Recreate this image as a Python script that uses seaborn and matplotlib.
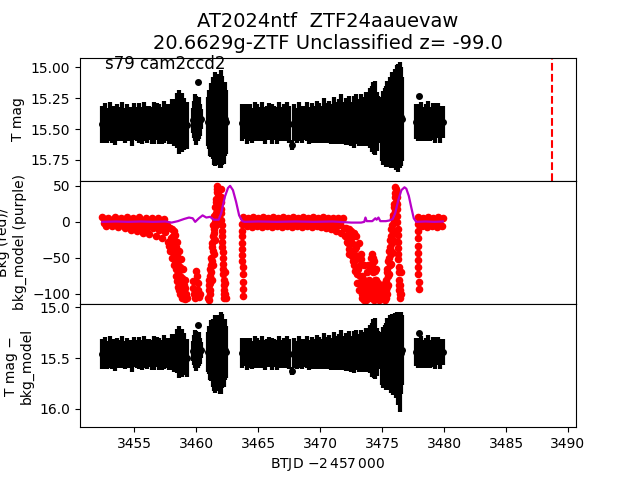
import matplotlib
matplotlib.use("Agg")
import matplotlib.pyplot as plt
import seaborn as sns

# ---------------- photometry (T mag) ----------------
t_mag = [
    # segment A
    3452.4, 3452.6, 3452.8, 3453.0, 3453.2, 3453.4, 3453.6, 3453.8, 3454.0, 3454.2,
    3454.4, 3454.6, 3454.8, 3455.0, 3455.2, 3455.4, 3455.6, 3455.8, 3456.0, 3456.2,
    3456.4, 3456.6, 3456.8, 3457.0, 3457.2, 3457.4, 3457.6, 3457.8, 3458.0, 3458.2,
    3458.4, 3458.6, 3458.8, 3459.0, 3459.2,
    # segment B
    3459.7, 3459.8, 3459.9, 3460.0, 3460.1, 3460.15, 3460.2, 3460.3, 3460.4,
    # segment C
    3460.9, 3461.0, 3461.1, 3461.2, 3461.3, 3461.4, 3461.5, 3461.6, 3461.7, 3461.8,
    3461.9, 3462.0, 3462.1, 3462.2, 3462.3, 3462.4,
    # segment D
    3463.7, 3463.9, 3464.1, 3464.3, 3464.5, 3464.7, 3464.9, 3465.1, 3465.3, 3465.5,
    3465.7, 3465.9, 3466.1, 3466.3, 3466.5, 3466.7, 3466.9, 3467.1, 3467.3, 3467.5,
    3467.7, 3467.9, 3468.1, 3468.3, 3468.5, 3468.7, 3468.9, 3469.1, 3469.3, 3469.5,
    3469.7, 3469.9, 3470.1, 3470.3, 3470.5, 3470.7, 3470.9, 3471.1, 3471.3, 3471.5,
    3471.7, 3471.9, 3472.1, 3472.3, 3472.5, 3472.7, 3472.9, 3473.1, 3473.3, 3473.5,
    3473.7,
    # segment E
    3473.85, 3473.95, 3474.05, 3474.15, 3474.25, 3474.35, 3474.45, 3474.55, 3474.65, 3474.75,
    # segment F
    3475.0, 3475.1, 3475.2, 3475.3, 3475.4, 3475.5, 3475.6, 3475.7, 3475.8, 3475.9,
    3476.0, 3476.1, 3476.2, 3476.3, 3476.4, 3476.5, 3476.6,
    # segment G
    3477.7, 3477.9, 3477.95, 3478.1, 3478.3, 3478.5, 3478.7, 3478.9, 3479.1, 3479.3,
    3479.5, 3479.7, 3479.9,
]
mag = [
    15.46, 15.45, 15.47, 15.44, 15.46, 15.47, 15.45, 15.46, 15.44, 15.47,
    15.45, 15.46, 15.48, 15.44, 15.46, 15.45, 15.47, 15.44, 15.46, 15.45,
    15.47, 15.45, 15.44, 15.46, 15.47, 15.44, 15.45, 15.46, 15.44, 15.45,
    15.43, 15.44, 15.45, 15.46, 15.47,
    15.43, 15.42, 15.41, 15.43, 15.42, 15.12, 15.41, 15.43, 15.42,
    15.44, 15.42, 15.45, 15.43, 15.41, 15.44, 15.42, 15.45, 15.43, 15.41,
    15.44, 15.42, 15.43, 15.45, 15.42, 15.44,
    15.45, 15.44, 15.46, 15.45, 15.47, 15.44, 15.45, 15.46, 15.44, 15.47,
    15.45, 15.44, 15.46, 15.45, 15.47, 15.44, 15.46, 15.45, 15.44, 15.46,
    15.63, 15.45, 15.47, 15.44, 15.46, 15.45, 15.44, 15.47, 15.45, 15.46,
    15.44, 15.45, 15.46, 15.43, 15.45, 15.44, 15.46, 15.43, 15.45, 15.44,
    15.42, 15.45, 15.44, 15.43, 15.46, 15.44, 15.42, 15.45, 15.43, 15.44,
    15.42,
    15.43, 15.42, 15.41, 15.42, 15.40, 15.43, 15.41, 15.44, 15.42, 15.43,
    15.50, 15.49, 15.47, 15.48, 15.45, 15.46, 15.44, 15.45, 15.42, 15.43,
    15.41, 15.42, 15.40, 15.41, 15.39, 15.40, 15.42,
    15.44, 15.45, 15.23, 15.44, 15.46, 15.45, 15.43, 15.46, 15.44, 15.45,
    15.43, 15.46, 15.44,
]
mag_err = [
    0.15, 0.16, 0.14, 0.16, 0.15, 0.16, 0.15, 0.14, 0.16, 0.14,
    0.15, 0.14, 0.16, 0.15, 0.14, 0.16, 0.15, 0.16, 0.15, 0.14,
    0.15, 0.17, 0.15, 0.16, 0.15, 0.17, 0.15, 0.16, 0.18, 0.19,
    0.22, 0.26, 0.24, 0.21, 0.19,
    0.1, 0.15, 0.19, 0.2, 0.18, 0.01, 0.17, 0.13, 0.08,
    0.2, 0.24, 0.27, 0.3, 0.33, 0.35, 0.38, 0.34, 0.31, 0.36,
    0.38, 0.4, 0.36, 0.33, 0.3, 0.26,
    0.15, 0.14, 0.16, 0.15, 0.14, 0.16, 0.15, 0.14, 0.16, 0.15,
    0.14, 0.15, 0.16, 0.14, 0.15, 0.16, 0.14, 0.15, 0.16, 0.15,
    0.04, 0.15, 0.14, 0.16, 0.15, 0.14, 0.16, 0.15, 0.16, 0.15,
    0.17, 0.16, 0.15, 0.18, 0.16, 0.17, 0.16, 0.19, 0.17, 0.18,
    0.2, 0.17, 0.19, 0.2, 0.18, 0.21, 0.2, 0.19, 0.21, 0.2,
    0.22,
    0.14, 0.19, 0.24, 0.27, 0.28, 0.27, 0.3, 0.24, 0.19, 0.13,
    0.26, 0.3, 0.3, 0.33, 0.34, 0.35, 0.36, 0.37, 0.38, 0.39,
    0.4, 0.41, 0.42, 0.44, 0.43, 0.4, 0.34,
    0.14, 0.15, 0.01, 0.16, 0.14, 0.15, 0.16, 0.14, 0.15, 0.16,
    0.14, 0.15, 0.13,
]
# T mag - bkg_model (same cadence)
mag_corr = [
    15.46, 15.45, 15.47, 15.44, 15.46, 15.47, 15.45, 15.46, 15.44, 15.47,
    15.45, 15.46, 15.48, 15.44, 15.46, 15.45, 15.47, 15.44, 15.46, 15.45,
    15.47, 15.45, 15.44, 15.46, 15.47, 15.44, 15.45, 15.46, 15.44, 15.45,
    15.43, 15.44, 15.45, 15.46, 15.50,
    15.43, 15.42, 15.41, 15.43, 15.42, 15.17, 15.41, 15.43, 15.42,
    15.44, 15.42, 15.45, 15.43, 15.45, 15.47, 15.46, 15.48, 15.45, 15.44,
    15.47, 15.45, 15.43, 15.45, 15.42, 15.44,
    15.45, 15.44, 15.46, 15.45, 15.47, 15.44, 15.45, 15.46, 15.44, 15.47,
    15.45, 15.44, 15.46, 15.45, 15.47, 15.44, 15.46, 15.45, 15.44, 15.46,
    15.63, 15.45, 15.47, 15.44, 15.46, 15.45, 15.44, 15.47, 15.45, 15.46,
    15.44, 15.45, 15.46, 15.43, 15.45, 15.44, 15.46, 15.43, 15.45, 15.44,
    15.42, 15.45, 15.44, 15.43, 15.46, 15.44, 15.42, 15.45, 15.43, 15.44,
    15.42,
    15.43, 15.42, 15.41, 15.42, 15.40, 15.43, 15.41, 15.44, 15.42, 15.43,
    15.50, 15.49, 15.47, 15.48, 15.45, 15.46, 15.44, 15.47, 15.45, 15.47,
    15.46, 15.48, 15.47, 15.52, 15.60, 15.45, 15.42,
    15.44, 15.45, 15.25, 15.44, 15.46, 15.45, 15.43, 15.46, 15.44, 15.45,
    15.43, 15.46, 15.44,
]

# ---------------- background (red points) ----------------
t_bkg = [
    # orbit 1 quiet part
    3452.4, 3452.5, 3452.6, 3452.7, 3452.8, 3452.9, 3453.0, 3453.1, 3453.2, 3453.3,
    3453.4, 3453.5, 3453.6, 3453.7, 3453.8, 3453.9, 3454.0, 3454.1, 3454.2, 3454.3,
    3454.4, 3454.5, 3454.6, 3454.7, 3454.8, 3454.9, 3455.0, 3455.1, 3455.2, 3455.3,
    3455.4, 3455.5, 3455.6, 3455.7, 3455.8, 3455.9, 3456.0, 3456.1, 3456.2, 3456.3,
    3456.4, 3456.5, 3456.6, 3456.7, 3456.8, 3456.9, 3457.0, 3457.1, 3457.2, 3457.3,
    3457.4, 3457.5, 3457.6, 3457.7, 3457.8,
    # orbit 1 drop
    3457.85, 3457.9, 3457.95, 3458.0, 3458.05, 3458.1, 3458.15, 3458.2, 3458.25, 3458.3,
    3458.35, 3458.4, 3458.45, 3458.5, 3458.55, 3458.6, 3458.65, 3458.7, 3458.75, 3458.8,
    3458.85, 3458.9, 3458.95, 3459.0, 3459.05, 3459.1, 3459.15, 3459.2,
    3459.7, 3459.75, 3459.8, 3459.85, 3459.9, 3460.0, 3460.05, 3460.1, 3460.15, 3460.2, 3460.3,
    3460.95, 3461.0, 3461.03, 3461.06, 3461.1, 3461.13, 3461.16, 3461.2, 3461.23, 3461.26,
    3461.3, 3461.33, 3461.36, 3461.4, 3461.43, 3461.46, 3461.5, 3461.53, 3461.56, 3461.6,
    3461.63, 3461.66, 3461.7, 3461.73, 3461.76,
    3461.95, 3461.98, 3462.01, 3462.04, 3462.07, 3462.1, 3462.13, 3462.16, 3462.19, 3462.22,
    3462.25, 3462.28, 3462.31, 3462.34, 3462.37,
    # orbit 2 start
    3463.66, 3463.67, 3463.68, 3463.69, 3463.7, 3463.71, 3463.72, 3463.73, 3463.74, 3463.75,
    3463.76, 3463.77,
    # orbit 2 quiet part
    3463.8, 3463.9, 3464.0, 3464.1, 3464.2, 3464.3, 3464.4, 3464.5, 3464.6, 3464.7,
    3464.8, 3464.9, 3465.0, 3465.1, 3465.2, 3465.3, 3465.4, 3465.5, 3465.6, 3465.7,
    3465.8, 3465.9, 3466.0, 3466.1, 3466.2, 3466.3, 3466.4, 3466.5, 3466.6, 3466.7,
    3466.8, 3466.9, 3467.0, 3467.1, 3467.2, 3467.3, 3467.4, 3467.5, 3467.6, 3467.7,
    3467.8, 3467.9, 3468.0, 3468.1, 3468.2, 3468.3, 3468.4, 3468.5, 3468.6, 3468.7,
    3468.8, 3468.9, 3469.0, 3469.1, 3469.2, 3469.3, 3469.4, 3469.5, 3469.6, 3469.7,
    3469.8, 3469.9, 3470.0, 3470.1, 3470.2, 3470.3, 3470.4, 3470.5, 3470.6, 3470.7,
    3470.8, 3470.9, 3471.0, 3471.1, 3471.2, 3471.3, 3471.4, 3471.5, 3471.6, 3471.7,
    3471.8, 3471.9, 3472.0,
    # orbit 2 drop
    3472.1, 3472.15, 3472.2, 3472.3, 3472.35, 3472.4, 3472.5, 3472.55, 3472.6, 3472.7,
    3472.75, 3472.8, 3472.9, 3472.95, 3473.0, 3473.1, 3473.15, 3473.2, 3473.3, 3473.35,
    3473.4, 3473.5, 3473.55, 3473.6, 3473.7, 3473.75,
    3473.85, 3473.9, 3473.95, 3474.0, 3474.05, 3474.1, 3474.15, 3474.2, 3474.25, 3474.3,
    3474.35, 3474.4, 3474.45, 3474.5, 3474.55, 3474.6, 3474.7, 3474.8, 3474.9, 3475.0,
    3475.1,
    3475.2, 3475.25, 3475.3, 3475.35, 3475.4, 3475.45, 3475.5, 3475.55, 3475.6, 3475.65,
    3475.7, 3475.75, 3475.8, 3475.85, 3475.9, 3475.93, 3475.96, 3476.0, 3476.03, 3476.06,
    3476.09,
    3476.15, 3476.18, 3476.21, 3476.24, 3476.27, 3476.3, 3476.33, 3476.36, 3476.39, 3476.42,
    3476.45, 3476.48, 3476.51,
    # last segment
    3477.86, 3477.87, 3477.88, 3477.89, 3477.9, 3477.91, 3477.92, 3477.93, 3477.94, 3477.95,
    3477.9, 3478.0, 3478.1, 3478.2, 3478.3, 3478.4, 3478.5, 3478.6, 3478.7, 3478.8,
    3478.9, 3479.0, 3479.1, 3479.2, 3479.3, 3479.4, 3479.5, 3479.6, 3479.7, 3479.8,
    3479.9,
]
bkg = [
    7, -2, 4, -6, 1, 6, -3, 3, -6, 0,
    7, -2, 4, -7, 1, 6, -4, 2, -9, -1,
    7, -5, 2, -11, -1, 6, -6, 1, -13, -2,
    7, -7, 1, -15, -3, 6, -8, 0, -17, -4,
    6, -9, 0, -19, -5, 5, -11, -2, -23, -6,
    4, -14, -4, -28, -33,
    -8, -40, -22, -10, -50, -30, -12, -60, -38, -18,
    -75, -48, -28, -90, -62, -40, -100, -75, -52, -105,
    -88, -66, -106, -95, -80, -107, -100, -106,
    -82, -92, -100, -105, -96, -68, -75, -85, -95, -104, -100,
    -105, -95, -80, -100, -65, -85, -50, -70, -35, -55,
    -20, -40, -5, -25, 8, -10, 20, 0, 32, 12,
    42, 25, 50, 38, 46,
    45, 28, 12, -5, -20, -35, -50, -65, -80, -95,
    -105, -100, -85, -70, -105,
    -3, -12, -20, -29, -38, -46, -55, -63, -73, -83,
    -93, -103,
    7, -1, 3, -6, 6, 0, 4, -7, 7, -2,
    2, -6, 6, -1, 3, -7, 7, 0, 4, -6,
    6, -2, 2, -7, 7, -1, 3, -6, 6, 0,
    4, -7, 7, -2, 2, -6, 6, -1, 3, -7,
    7, 0, 4, -6, 6, -2, 2, -7, 7, -1,
    3, -6, 6, 0, 4, -7, 7, -2, 2, -6,
    6, -1, 3, -7, 7, 0, 4, -8, 6, -3,
    1, -10, 6, -4, 0, -13, 5, -5, -1, -16,
    5, -8, -20,
    -8, -28, -18, -10, -38, -24, -12, -48, -30, -15,
    -60, -38, -20, -72, -48, -30, -85, -60, -45, -100,
    -75, -60, -108, -88, -105, -70,
    -95, -106, -80, -65, -90, -50, -105, -45, -70, -95,
    -55, -80, -106, -65, -90, -104, -85, -100, -107, -95,
    -106,
    -100, -85, -105, -70, -90, -55, -75, -40, -60, -25,
    -45, -10, -30, 5, -15, 20, 0, 35, 15, 48,
    28,
    42, 25, 8, -10, -28, -45, -62, -80, -95, -105,
    -88, -70, -100,
    -3, -13, -23, -33, -43, -53, -63, -73, -83, -93,
    7, -1, 3, -6, 6, 0, 4, -7, 7, -2,
    2, -6, 6, -1, 3, -7, 7, 0, 4, -6,
    6,
]
# additional background samples inside the steep scattered-light ramps
t_bkg_ramp = [
    3457.88, 3457.98, 3458.08, 3458.12, 3458.18, 3458.22, 3458.28, 3458.32, 3458.38, 3458.42,
    3458.48, 3458.52, 3458.58, 3458.62, 3458.68, 3458.72, 3458.78, 3458.82, 3458.88, 3458.92,
    3458.98, 3459.02, 3459.08,
    3460.98, 3461.08, 3461.18, 3461.28, 3461.38, 3461.48, 3461.58, 3461.68, 3461.02, 3461.12,
    3461.22, 3461.32, 3461.42, 3461.52, 3461.62, 3461.72,
    3461.96, 3461.99, 3462.02, 3462.05, 3462.08, 3462.11, 3462.14, 3462.17, 3462.2, 3462.23,
    3472.12, 3472.25, 3472.33, 3472.45, 3472.52, 3472.62, 3472.68, 3472.78, 3472.85, 3472.92,
    3472.98, 3473.05, 3473.12, 3473.18, 3473.25, 3473.32, 3473.38, 3473.45, 3473.52, 3473.58,
    3473.65, 3473.72,
    3473.88, 3473.98, 3474.08, 3474.12, 3474.18, 3474.22, 3474.28, 3474.32, 3474.38, 3474.42,
    3474.48, 3474.52, 3474.62, 3474.75, 3474.85, 3474.95,
    3475.22, 3475.28, 3475.32, 3475.38, 3475.42, 3475.48, 3475.52, 3475.58, 3475.62, 3475.68,
    3475.72, 3475.78, 3475.82, 3475.88, 3475.91, 3475.98, 3476.04, 3476.08,
    3476.16, 3476.19, 3476.22, 3476.25, 3476.28, 3476.31, 3476.34, 3476.37, 3476.4, 3476.43,
]
bkg_ramp = [
    -28, -35, -42, -20, -45, -25, -55, -65, -35, -82,
    -55, -70, -85, -95, -62, -88, -98, -78, -95, -102,
    -88, -104, -92,
    -88, -75, -60, -30, -15, 5, 28, 45, -108, -95,
    -80, -60, -45, -25, -5, 15,
    35, 18, 2, -12, -28, -42, -58, -72, -88, -100,
    -18, -30, -45, -40, -22, -55, -40, -68, -52, -35,
    -85, -65, -95, -75, -52, -88, -105, -95, -80, -100,
    -90, -108,
    -60, -100, -85, -65, -58, -85, -50, -108, -68, -95,
    -80, -100, -92, -108, -90, -100,
    -108, -95, -80, -100, -65, -88, -50, -72, -35, -58,
    -20, -42, -5, -25, 10, 25, 40, 45,
    35, 18, 0, -18, -36, -52, -70, -88, -100, -95,
]

# ---------------- background model (purple line) ----------------
t_model = [
    3452.4, 3453.5, 3454.5, 3455.5, 3456.5, 3457.5, 3458.0, 3458.5, 3459.0, 3459.4,
    3459.7, 3459.9, 3460.2, 3460.5, 3460.8, 3461.1, 3461.4, 3461.8, 3462.0, 3462.3,
    3462.55, 3462.72, 3462.95, 3463.2, 3463.45, 3463.7, 3463.9, 3465.0, 3466.5, 3468.0,
    3469.5, 3471.0, 3472.5, 3473.3, 3473.55, 3473.65, 3473.75, 3474.2, 3474.45, 3474.55,
    3474.7, 3474.85, 3475.3, 3475.6, 3475.85, 3476.05, 3476.3, 3476.55, 3476.8, 3476.95,
    3477.15, 3477.35, 3477.55, 3477.75, 3478.5, 3479.2, 3479.9,
]
bkg_model = [
    0, 0.5, 0, 0.5, 0, 0.5, -1, 1, 4, 6,
    5, 0, 5, 9, 6, 7, 3, 3, 12, 35,
    47, 50, 44, 28, 9, 1, 0, 0.5, 0, 0.5,
    0, 0.5, -1, -1, 0, 6, 1, 1, 5, 3,
    6, 1, 1, 2, 4, 12, 30, 44, 48, 46,
    36, 20, 5, 0, 0.5, 0, 0.5,
]

t_alert = 3488.7

title = "AT2024ntf  ZTF24aauevaw\n20.6629g-ZTF Unclassified z= -99.0"
sector_label = "s79 cam2ccd2"

# ---------------- figure ----------------
fig = plt.figure(figsize=(6.4, 4.8), dpi=100)
ax1, ax2, ax3 = fig.subplots(3, 1, sharex=True, gridspec_kw={"hspace": 0})

# top: T mag
ax1.errorbar(t_mag, mag, yerr=mag_err, fmt="o", color="k", ms=4,
             elinewidth=3.0, capsize=0)
ax1.axvline(t_alert, color="r", ls="--", lw=1.5)
ax1.set_ylim(15.92, 14.921)
ax1.set_yticks([15.0, 15.25, 15.5, 15.75])
ax1.set_yticklabels(["15.00", "15.25", "15.50", "15.75"])
ax1.set_ylabel("T mag")
ax1.text(0.05, 0.95, sector_label, transform=ax1.transAxes, fontsize=12,
         va="center", ha="left")
ax1.set_title(title, fontsize=14)

# middle: background + model
sns.scatterplot(x=t_bkg + t_bkg_ramp, y=bkg + bkg_ramp, color="red", s=30,
                linewidth=0, ax=ax2, zorder=2)
sns.lineplot(x=t_model, y=bkg_model, color="#b800c8", lw=1.6, ax=ax2, zorder=3)
ax2.set_ylim(-114, 57)
ax2.set_yticks([-100, -50, 0, 50])
ax2.set_ylabel("Bkg (red)/\nbkg_model (purple)")

# bottom: T mag - bkg_model
ax3.errorbar(t_mag, mag_corr, yerr=mag_err, fmt="o", color="k", ms=4,
             elinewidth=3.0, capsize=0)
ax3.set_ylim(16.18, 14.968)
ax3.set_yticks([15.0, 15.5, 16.0])
ax3.set_yticklabels(["15.0", "15.5", "16.0"])
ax3.set_ylabel("T mag \u2212\nbkg_model")
ax3.set_xlim(3450.6, 3490.65)
ax3.set_xticks([3455, 3460, 3465, 3470, 3475, 3480, 3485, 3490])
ax3.set_xlabel(r"BTJD $-2\,457\,000$")

fig.savefig("out.png", dpi=100)
